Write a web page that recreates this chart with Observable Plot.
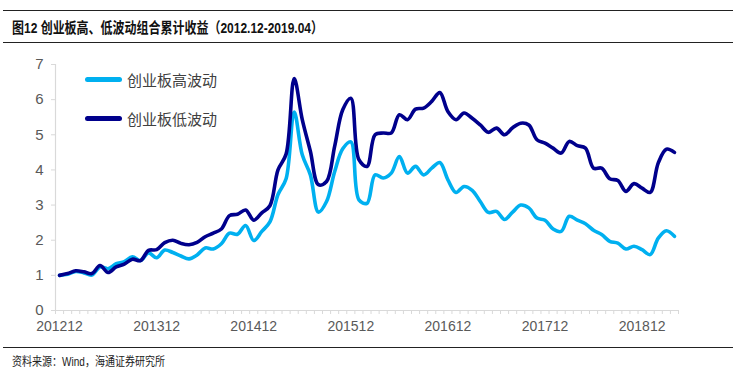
<!DOCTYPE html>
<html>
<head>
<meta charset="utf-8">
<script src="https://cdn.jsdelivr.net/npm/d3@7"></script>
<script src="https://cdn.jsdelivr.net/npm/@observablehq/plot@0.6"></script>
<style>
  html, body { margin: 0; padding: 0; background: #fff; }
  #wrap { position: relative; width: 736px; height: 375px; overflow: hidden; font-family: "Noto Sans CJK SC", "Liberation Sans", sans-serif; }
  .hr { position: absolute; left: 3px; width: 730px; height: 0; border-top: 1.5px solid #222; }
  #title { position: absolute; left: 12px; top: 16px; font-size: 15px; font-weight: bold; color: #111; white-space: nowrap; line-height: 22px; transform-origin: 0 50%; }
  #title .lat { font-family: "Liberation Sans", Arial, sans-serif; font-size: 15px; }
  #chart { position: absolute; left: 0; top: 45px; }
  #source { position: absolute; left: 12px; top: 352px; font-size: 12px; color: #222; line-height: 18px; white-space: nowrap; transform-origin: 0 50%; }
  #source .lat { font-family: "Liberation Sans", Arial, sans-serif; font-size: 12px; }
  .leg { position: absolute; left: 85px; height: 20px; display: flex; align-items: center; font-size: 15px; color: #404040; white-space: nowrap; }
  .leg .sw { width: 37px; height: 5px; border-radius: 2.5px; margin-right: 5px; }
</style>
</head>
<body>
<div id="wrap">
  <div class="hr" style="top:10px"></div>
  <div id="title">图<span class="lat">12 </span>创业板高、低波动组合累计收益（<span class="lat">2012.12-2019.04</span>）</div>
  <div class="hr" style="top:42px"></div>
  <div id="chart"></div>
  <div class="leg" style="top:69px"><div class="sw" style="background:#00B0F0"></div>创业板高波动</div>
  <div class="leg" style="top:108px"><div class="sw" style="background:#00008C"></div>创业板低波动</div>
  <div class="hr" style="top:347px"></div>
  <div id="source">资料来源：<span class="lat">Wind</span>，海通证券研究所</div>
</div>
<script>
const months = [
  "2012-12",
  "2013-01","2013-02","2013-03","2013-04","2013-05","2013-06","2013-07","2013-08","2013-09","2013-10","2013-11","2013-12",
  "2014-01","2014-02","2014-03","2014-04","2014-05","2014-06","2014-07","2014-08","2014-09","2014-10","2014-11","2014-12",
  "2015-01","2015-02","2015-03","2015-04","2015-05","2015-06","2015-07","2015-08","2015-09","2015-10","2015-11","2015-12",
  "2016-01","2016-02","2016-03","2016-04","2016-05","2016-06","2016-07","2016-08","2016-09","2016-10","2016-11","2016-12",
  "2017-01","2017-02","2017-03","2017-04","2017-05","2017-06","2017-07","2017-08","2017-09","2017-10","2017-11","2017-12",
  "2018-01","2018-02","2018-03","2018-04","2018-05","2018-06","2018-07","2018-08","2018-09","2018-10","2018-11","2018-12",
  "2019-01","2019-02","2019-03","2019-04"
];
const highVol = [
  1.00,1.03,1.11,1.07,1.01,1.24,1.19,1.33,1.39,1.53,1.42,1.64,1.50,
  1.72,1.65,1.55,1.47,1.58,1.78,1.75,1.90,2.20,2.17,2.42,1.99,
  2.25,2.52,3.30,3.75,5.65,4.43,3.86,2.80,3.10,3.95,4.60,4.80,
  3.15,3.05,3.86,3.77,3.91,4.38,3.91,4.10,3.86,4.05,4.21,3.72,
  3.36,3.53,3.42,3.10,2.79,2.82,2.59,2.80,3.00,2.92,2.63,2.57,
  2.32,2.25,2.68,2.57,2.47,2.28,2.16,1.97,1.92,1.75,1.83,1.73,
  1.59,2.06,2.27,2.11
];
const lowVol = [
  1.00,1.05,1.13,1.10,1.05,1.28,1.08,1.24,1.32,1.46,1.42,1.71,1.73,
  1.93,2.00,1.91,1.87,1.94,2.10,2.20,2.32,2.70,2.74,2.86,2.57,
  2.78,2.98,4.00,4.45,6.60,5.43,4.53,3.58,3.67,4.67,5.71,6.04,
  4.29,4.10,5.00,5.05,5.05,5.57,5.43,5.73,5.76,5.95,6.20,5.66,
  5.43,5.62,5.47,5.28,5.07,5.19,5.00,5.20,5.33,5.28,4.86,4.76,
  4.62,4.48,4.81,4.69,4.62,4.05,4.05,3.75,3.70,3.39,3.61,3.48,
  3.36,4.20,4.59,4.50
];
const seriesNames = ["创业板高波动", "创业板低波动"];
const seriesColors = ["#00B0F0", "#00008C"];
const xTickLabels = ["201212","201312","201412","201512","201612","201712","201812"];
const yTicks = [0,1,2,3,4,5,6,7];

const highRows = months.map((m, i) => ({i, month: m, v: highVol[i]}));
const lowRows = months.map((m, i) => ({i, month: m, v: lowVol[i]}));
const labelIdx = xTickLabels.map(l => months.indexOf(l.slice(0,4) + "-" + l.slice(4)));
const boundaries = months.map((m, i) => i - 0.5).concat([months.length - 0.5]);

const chart = Plot.plot({
  width: 736,
  height: 300,
  marginLeft: 55,
  marginRight: 58,
  marginTop: 19,
  marginBottom: 35,
  x: {domain: [-0.5, months.length - 0.5]},
  y: {domain: [0, 7]},
  style: {fontFamily: "'Liberation Sans', Arial, sans-serif", fontSize: "14px", color: "#595959", background: "transparent"},
  marks: [
    Plot.axisY({ticks: yTicks, tickSize: 4, tickPadding: 8, tickFormat: (d) => String(d), stroke: "#d9d9d9", label: null, fontSize: 15}),
    Plot.axisX({ticks: boundaries, tickSize: 4, tickFormat: () => "", stroke: "#d9d9d9", label: null}),
    Plot.axisX({ticks: labelIdx, tickSize: 0, tickPadding: 11, tickFormat: (d) => xTickLabels[labelIdx.indexOf(d)], label: null, fontSize: 14}),
    Plot.ruleX([-0.5], {stroke: "#d9d9d9", strokeWidth: 1.2}),
    Plot.ruleY([0], {stroke: "#d9d9d9", strokeWidth: 1.2}),
    Plot.line(highRows, {x: "i", y: "v", stroke: seriesColors[0], strokeWidth: 3.6, curve: "catmull-rom"}),
    Plot.line(lowRows, {x: "i", y: "v", stroke: seriesColors[1], strokeWidth: 3.6, curve: "catmull-rom"})
  ]
});
document.getElementById("chart").appendChild(chart);

function fitWidth(id, target) {
  const el = document.getElementById(id);
  const w = el.getBoundingClientRect().width;
  if (w > 0) el.style.transform = "scaleX(" + (target / w) + ")";
}
fitWidth("title", 311);
fitWidth("source", 153);
</script>
</body>
</html>
